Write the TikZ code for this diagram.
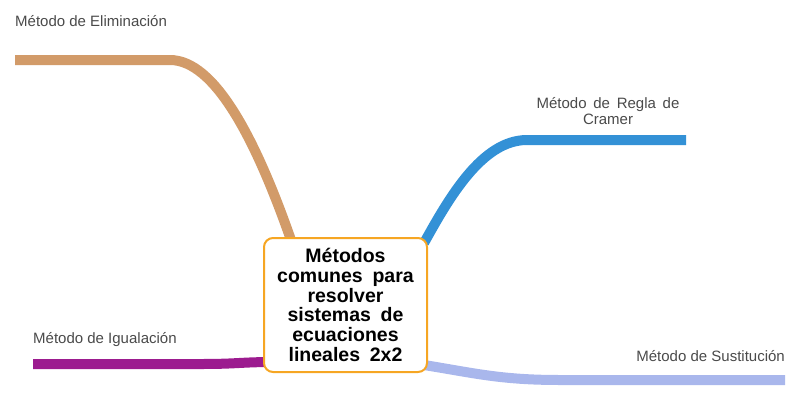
\documentclass[tikz,border=0pt]{standalone}
\usepackage{fontspec}
\setmainfont{Liberation Sans}
\usetikzlibrary{positioning}
\usetikzlibrary{backgrounds}
\definecolor{elimcol}{HTML}{D29B69}
\definecolor{cramcol}{HTML}{3391D6}
\definecolor{igualcol}{HTML}{9C1B8F}
\definecolor{sustcol}{HTML}{A9B7EC}
\definecolor{topicorange}{HTML}{F6A623}
\definecolor{labelgray}{HTML}{4A4A4A}
% wider gaps between words
\newcommand\widewords[1]{\spaceskip=#1\relax}
\tikzset {
  % thick branch line of the map
  branch/.style = {
    line width = 10pt,
    line cap = butt
  },
  % text over a branch
  leaf/.style = {
    font = \fontsize{15}{16}\selectfont,
    text = labelgray,
    inner sep = 0
  },
  % central topic box
  topic/.style = {
    draw = topicorange,
    line width = 2pt,
    rounded corners = 9pt,
    fill = white,
    align = center,
    font = \bfseries\fontsize{19.5}{19.8}\selectfont\widewords{0.5em},
    minimum width = 163pt,
    minimum height = 134pt,
    inner sep = 2pt
  }
}
\begin{document}
\begin{tikzpicture}[x=1pt,y=-1pt]
    \useasboundingbox (0,0) rectangle (795,405);

    \node[topic] (topic) at (345.5,305) {Métodos\\comunes para\\resolver\\sistemas de\\ecuaciones\\lineales 2x2};

    \coordinate (elim-start) at (15,60);
    \coordinate (elim-bend) at (170,60);
    \coordinate (elim-end) at (291,240);
    \coordinate (cram-start) at (424,243);
    \coordinate (cram-bend) at (527,140);
    \coordinate (cram-end) at (686,140);
    \coordinate (igual-start) at (33,364);
    \coordinate (igual-bend) at (200,364);
    \coordinate (igual-end) at (267,362);
    \coordinate (sust-start) at (424,365);
    \coordinate (sust-bend) at (560,380);
    \coordinate (sust-end) at (785,380);

    \node[leaf, anchor=west] (elim) at (15,21) {Método de Eliminación};
    \node[leaf, align=center, font=\fontsize{15}{16}\selectfont\widewords{0.45em}] (cram) at (608,111) {Método de Regla de\\Cramer};
    \node[leaf, anchor=west] (igual) at (33,340) {Método de Igualación};
    \node[leaf, anchor=east] (sust) at (785,356) {Método de Sustitución};

    \begin{scope}[on background layer]
      \draw[branch, elimcol] (elim-start) -- (elim-bend) .. controls +(45,0) and +(-35,-100) .. (elim-end);
      \draw[branch, cramcol] (cram-start) .. controls +(25,-45) and +(-45,0) .. (cram-bend) -- (cram-end);
      \draw[branch, igualcol] (igual-start) -- (igual-bend) .. controls +(35,0) and +(-30,0.5) .. (igual-end);
      \draw[branch, sustcol] (sust-start) .. controls +(50,8) and +(-60,0) .. (sust-bend) -- (sust-end);
    \end{scope}
  \end{tikzpicture}
\end{document}
